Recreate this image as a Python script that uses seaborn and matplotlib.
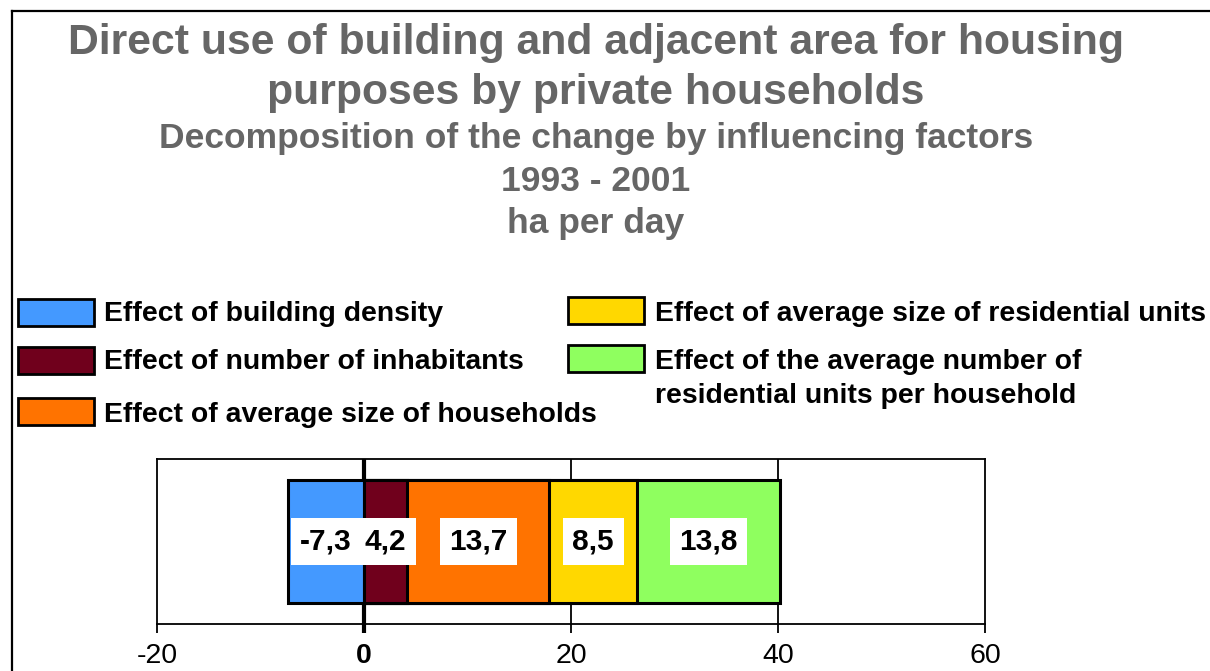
import matplotlib
matplotlib.use("Agg")
import matplotlib.pyplot as plt
from matplotlib.patches import Rectangle
from matplotlib.lines import Line2D
import seaborn as sns
import pandas as pd
import numpy as np

# ---------------- data ----------------
title_lines = ["Direct use of building and adjacent area for housing",
               "purposes by private households"]
subtitle_lines = ["Decomposition of the change by influencing factors",
                  "1993 - 2001",
                  "ha per day"]
categories = ["Effect of building density",
              "Effect of number of inhabitants",
              "Effect of average size of households",
              "Effect of average size of residential units",
              "Effect of the average number of\nresidential units per household"]
values = [-7.3, 4.2, 13.7, 8.5, 13.8]
value_labels = ["-7,3", "4,2", "13,7", "8,5", "13,8"]
colors = ["#4499FF", "#70001C", "#FF7300", "#FFD800", "#8FFF5F"]
xticks = [-20, 0, 20, 40, 60]
xtick_labels = ["-20", "0", "20", "40", "60"]

plt.rcParams['font.family'] = ['Liberation Sans', 'DejaVu Sans']

W, H = 1210, 671
fig = plt.figure(figsize=(W / 100, H / 100), dpi=100)
fig.patch.set_facecolor("white")

def fx(px):
    return px / W

def fy(py):
    return 1 - py / H

ax = fig.add_axes([fx(157), fy(624), fx(985) - fx(157), fy(459) - fy(624)])

# stacked segments (positives and negatives stacked separately)
pos_cum, neg_cum = 0.0, 0.0
starts, ends = [], []
for v in values:
    if v >= 0:
        starts.append(pos_cum); pos_cum += v; ends.append(pos_cum)
    else:
        starts.append(neg_cum); neg_cum += v; ends.append(neg_cum)

df = pd.DataFrame({"segment": categories, "value": values, "start": starts,
                   "end": ends, "color": colors, "label": value_labels})
df["row"] = ""

# grid lines behind bars
for t in xticks[2:-1]:
    ax.axvline(t, color="black", lw=1.3, zorder=0.5)
ax.axvline(0, color="black", lw=3.0, zorder=0.6)

# draw the longest cumulative bars first so shorter ones overlay them
order = df.reindex(df["end"].abs().sort_values(ascending=False).index)
for _, r in order.iterrows():
    sns.barplot(data=pd.DataFrame({"end": [r["end"]], "row": [""]}),
                x="end", y="row", orient="h", color=r["color"], saturation=1,
                width=0.75, edgecolor="black", linewidth=2.2, ax=ax, zorder=2)

for _, r in df.iterrows():
    ax.text((r["start"] + r["end"]) / 2, 0, r["label"], ha="center", va="center",
            fontsize=21.5, fontweight="bold", color="black", zorder=5,
            bbox=dict(boxstyle="square,pad=0.32", fc="white", ec="none"))

ax.set_xlim(xticks[0], xticks[-1])
ax.set_ylim(0.5, -0.5)
ax.set_xticks(xticks)
ax.set_xticklabels(xtick_labels)
for lab in ax.get_xticklabels():
    if lab.get_text() == "0":
        lab.set_fontweight("bold")
ax.tick_params(axis="x", length=6.5, width=1.3, pad=7.5, labelsize=20.5,
               colors="black", direction="out")
ax.tick_params(axis="y", length=0, labelleft=False)
ax.set_xlabel("")
ax.set_ylabel("")
for s in ax.spines.values():
    s.set_color("black")
    s.set_linewidth(1.3)
    s.set_visible(True)
ax.set_facecolor("white")
# thick tick at zero
ax.xaxis.get_major_ticks()[1].tick1line.set_markeredgewidth(3)

# ---------------- titles ----------------
title_color = "#666666"
cx = fx(596)
for line, base in zip(title_lines, [54, 104]):
    fig.text(cx, fy(base), line, ha="center", va="baseline", fontsize=30.8,
             fontweight="bold", color=title_color)
for line, base in zip(subtitle_lines, [148, 191, 233]):
    fig.text(cx, fy(base), line, ha="center", va="baseline", fontsize=25.5,
             fontweight="bold", color=title_color)

# ---------------- legend ----------------
legend_slots = [(18, 299, 104, 321), (18, 347, 104, 369), (18, 398, 104, 422),
                (568, 297, 655, 321), (568, 345, 655, 369)]
for (px, py, tx, tb), cat, col in zip(legend_slots, categories, colors):
    fig.add_artist(Rectangle((fx(px), fy(py + 27)), fx(76), 27 / H,
                             transform=fig.transFigure, facecolor=col,
                             edgecolor="black", lw=2))
    for i, line in enumerate(cat.split("\n")):
        fig.text(fx(tx), fy(tb + 34 * i), line, ha="left", va="baseline",
                 fontsize=20.4, fontweight="bold", color="black")

# ---------------- frame lines ----------------
fig.add_artist(Line2D([fx(12), fx(12)], [0, fy(11)], transform=fig.transFigure,
                      color="black", lw=1.6))
fig.add_artist(Line2D([fx(12), 1], [fy(11), fy(11)], transform=fig.transFigure,
                      color="black", lw=1.6))

fig.savefig("out.png", dpi=100, facecolor="white")
